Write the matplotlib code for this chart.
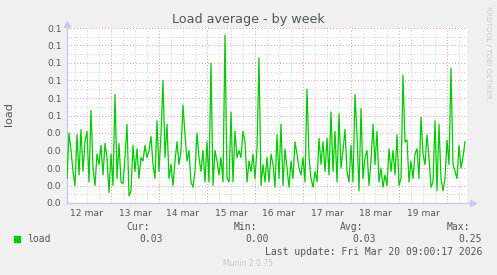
import numpy as np
import matplotlib.pyplot as plt

# load average, one value per hour starting Mar 12 02:00 (values in 1/1000)
load = np.array([
    14, 40, 30, 18, 10, 39, 16, 42, 18, 35, 41, 12, 53, 20, 10, 28, 22, 33, 16, 34, 26, 6, 28, 10, 62,
    14, 34, 12, 11, 26, 45, 4, 7, 33, 18, 31, 14, 26, 24, 33, 26, 30, 38, 22, 14, 47, 18, 39, 70, 26,
    45, 14, 22, 10, 24, 35, 22, 30, 56, 39, 24, 30, 12, 9, 18, 40, 26, 18, 30, 12, 35, 12, 80, 10, 30,
    24, 16, 26, 12, 96, 14, 12, 52, 12, 41, 26, 30, 26, 41, 35, 12, 24, 18, 28, 14, 31, 83, 10, 22, 12,
    26, 12, 28, 22, 9, 39, 14, 45, 10, 31, 20, 9, 24, 14, 35, 28, 20, 16, 26, 12, 65, 26, 14, 9, 18,
    12, 37, 22, 35, 18, 37, 16, 52, 18, 41, 12, 51, 20, 30, 42, 18, 12, 33, 12, 62, 39, 7, 54, 14, 26,
    30, 10, 24, 45, 22, 41, 12, 20, 9, 16, 10, 31, 18, 30, 16, 39, 10, 14, 73, 35, 36, 12, 24, 14, 28,
    31, 14, 49, 28, 22, 39, 26, 9, 12, 47, 7, 45, 14, 7, 14, 36, 22, 77, 22, 18, 14, 33, 20, 26, 35,
]) / 1000.0
hours = np.arange(len(load))

day_labels = ['12 mar', '13 mar', '14 mar', '15 mar', '16 mar', '17 mar', '18 mar', '19 mar']
noon_hours = [10, 34, 58, 82, 106, 130, 154, 178]
y_ticks = np.arange(0, 0.1001, 0.01)

stats_names = ['Cur:', 'Min:', 'Avg:', 'Max:']
stats_values = ['0.03', '0.00', '0.03', '0.25']

W, H = 497, 275
fig = plt.figure(figsize=(W / 100, H / 100), dpi=100, facecolor='#f0f0f0')
ax = fig.add_axes([67 / W, 72 / H, 400 / W, 175 / H])
ax.set_facecolor('white')
ax.set_xlim(0, 200)
ax.set_ylim(0, 0.1)

red = '#eaa0a0'
grey = '#d2d2d2'
dots = (0, (1, 2))
# vertical grid: 6 hours minor, midnight major
for h in range(4, 200, 6):
    major = (h - 22) % 24 == 0
    ax.axvline(h, color=red if major else grey, lw=0.75, ls=dots, zorder=1)
# horizontal grid
for v in np.arange(0.005, 0.1001, 0.005):
    major = round(v * 1000) % 10 == 0
    ax.axhline(v, color=red if major else grey, lw=0.75, ls=dots, zorder=1)

ax.plot(hours, load, color='#00cc00', lw=0.9, zorder=3)

for s in ax.spines.values():
    s.set_visible(False)
axc = '#c8c8f0'
ax.plot([0, 1.012], [0, 0], color=axc, lw=1, transform=ax.transAxes, clip_on=False)
ax.plot([0, 0], [0, 1.02], color=axc, lw=1, transform=ax.transAxes, clip_on=False)
ax.plot([1.015], [0], marker='>', ms=4, color=axc, transform=ax.transAxes, clip_on=False)
ax.plot([0], [1.025], marker='^', ms=4, color=axc, transform=ax.transAxes, clip_on=False)

ax.set_yticks(y_ticks, ['%.1f' % v for v in y_ticks])
ax.set_xticks(noon_hours, day_labels)
ax.tick_params(length=0, labelsize=6.6, colors='#555555', pad=4)

fig.text(0.5, 1 - 19 / H, 'Load average - by week', ha='center', va='center',
         fontsize=9.2, color='#555555')
fig.text(9 / W, 1 - 114 / H, 'load', rotation=90, ha='center', va='center',
         fontsize=8, color='#555555')
fig.text(488 / W, 1 - 52 / H, 'RRDTOOL / TOBI OETIKER', rotation=270, ha='center',
         va='center', fontsize=5.2, color='#cccccc')

mono = 'DejaVu Sans Mono'
fig.patches.append(plt.Rectangle((14 / W, 1 - 242 / H), 6 / W, 6 / H,
                                 transform=fig.transFigure, color='#00cc00'))
fig.text(27 / W, 1 - 239 / H, 'load', family=mono, fontsize=7, color='#555555',
         va='center')
name_x = [150, 257, 363, 470]
value_x = [163, 269, 376, 482]
for nm, vl, nx, vx in zip(stats_names, stats_values, name_x, value_x):
    fig.text(nx / W, 1 - 227 / H, nm, family=mono, fontsize=7, color='#555555',
             ha='right', va='center')
    fig.text(vx / W, 1 - 239 / H, vl, family=mono, fontsize=7, color='#555555',
             ha='right', va='center')
fig.text(482 / W, 1 - 252 / H, 'Last update: Fri Mar 20 09:00:17 2026', family=mono,
         fontsize=7, color='#555555', ha='right', va='center')
fig.text(248 / W, 1 - 264 / H, 'Munin 2.0.75', fontsize=5.5, color='#c8c8c8',
         ha='center', va='center')

fig.savefig('out.png', dpi=100, facecolor=fig.get_facecolor())
